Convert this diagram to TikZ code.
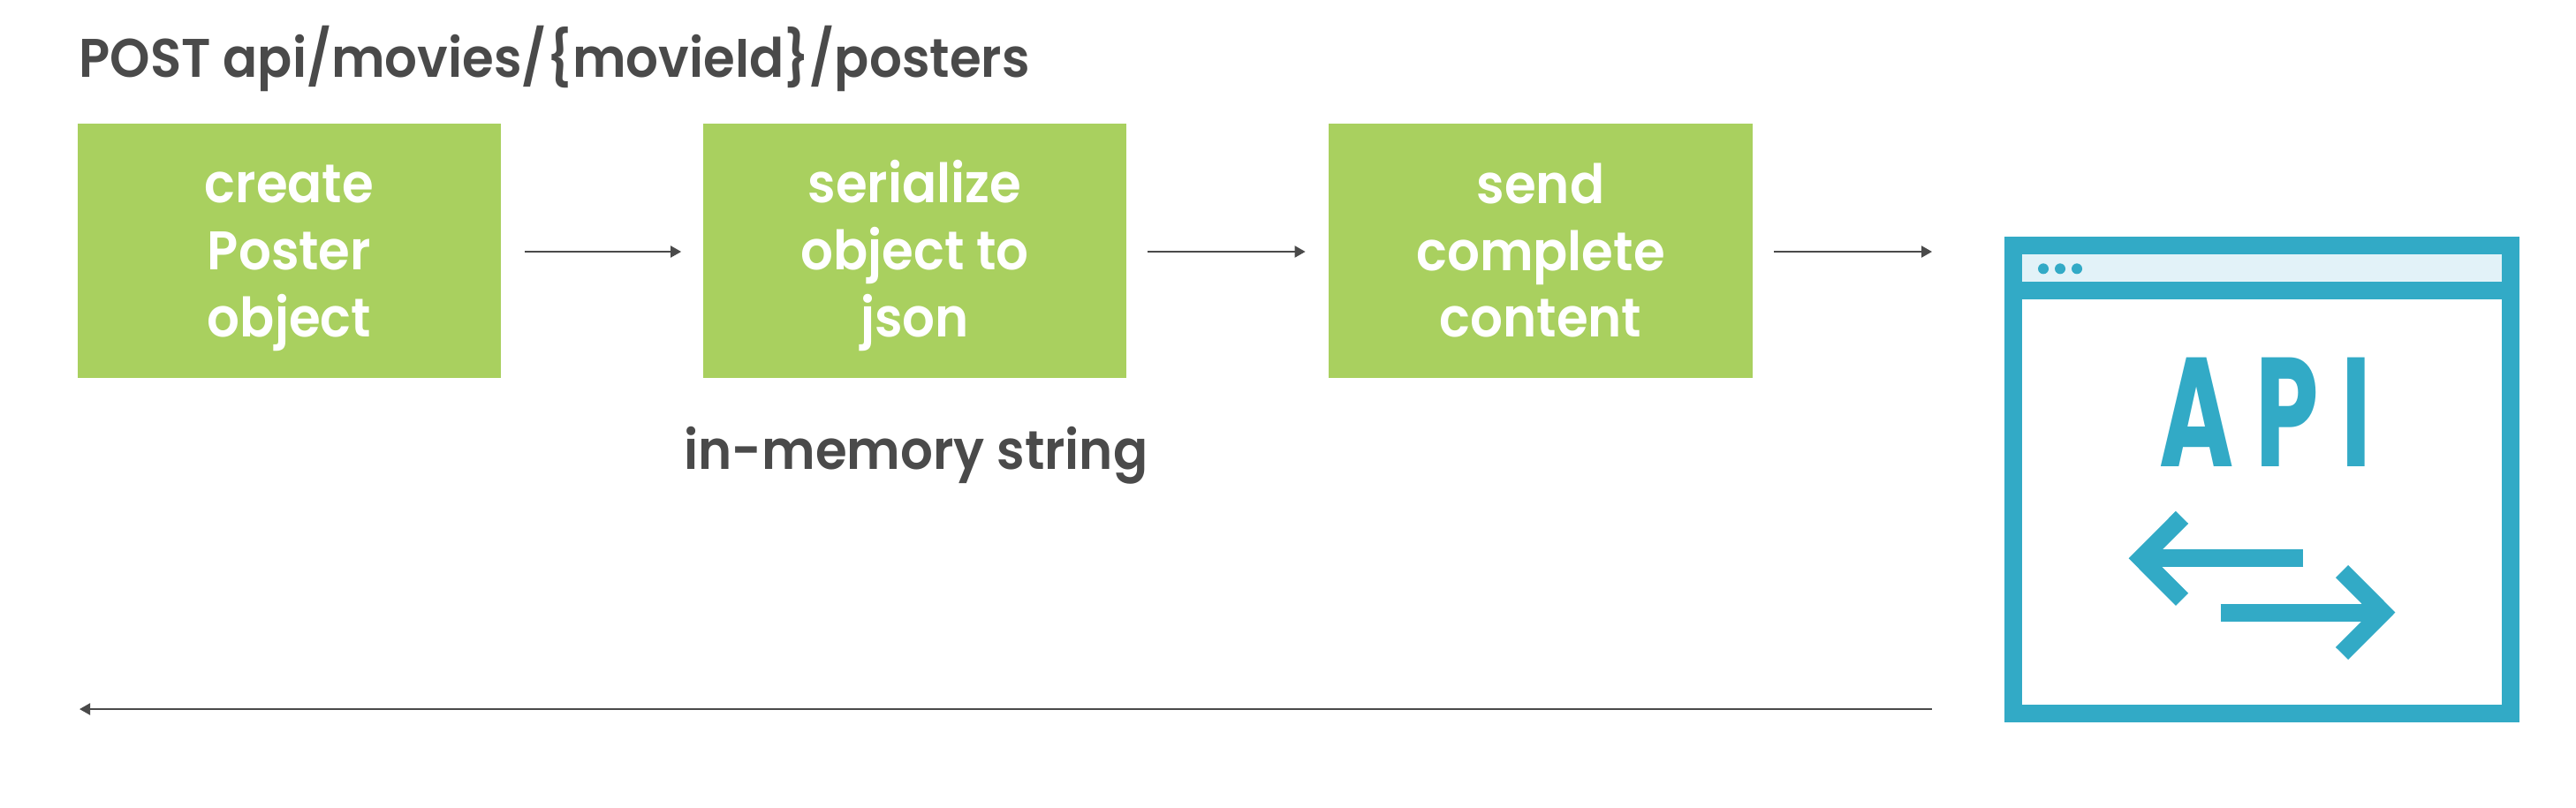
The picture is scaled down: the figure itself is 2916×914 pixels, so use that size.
\documentclass[tikz,border=0pt]{standalone}
\usepackage{xcolor}
\usepackage{fontspec}
\setmainfont{Poppins}[BoldFont={Poppins SemiBold}, FakeStretch=0.94]
\newfontfamily\apifont{Poppins}[LetterSpace=22]
\usetikzlibrary{arrows.meta, positioning}
\definecolor{stepcolor}{RGB}{169, 208, 95}
\definecolor{inkcolor}{RGB}{74, 74, 74}
\definecolor{apicolor}{RGB}{50, 170, 198}
\definecolor{barcolor}{RGB}{226, 242, 248}
\newcommand{\steplines}[3]{\rule{0pt}{0.6cm}#1\\#2\\\rule[-0.16cm]{0pt}{0.16cm}#3}

\begin{document}
\begin{tikzpicture}[
    x=0.01cm, y=-0.01cm,
    stepbox/.style={fill=stepcolor, text=white, minimum width=4.79cm, minimum height=2.88cm, inner sep=0pt, align=center, font=\fontsize{17.5}{21.6}\selectfont\bfseries},
    caption/.style={text=inkcolor, inner sep=0pt, font=\fontsize{17.5}{21.6}\selectfont\bfseries},
    flow/.style={draw=inkcolor, line width=0.02cm, -{Triangle[length=0.12cm, width=0.13cm]}},
    apistroke/.style={draw=apicolor, line width=0.2cm}
]
    \useasboundingbox (0, 0) rectangle (2916, 914);

    % Heading
    \node[caption, anchor=base west] (route) at (89, 87) {POST api/movies/\{movieId\}/posters};

    % Steps
    \node[stepbox] (create) at (327.5, 284) {\steplines{create}{Poster}{object}};
    \node[stepbox] (serialize) at (1035.5, 284) {\steplines{serialize}{object to}{json}};
    \node[stepbox] (send) at (1744, 284) {\steplines{send}{complete}{content}};
    \node[caption, anchor=base] (memory) at (1037, 531) {in-memory string};

    % Api window
    \fill[barcolor] (2280, 288) rectangle (2841, 319);
    \node[apistroke, minimum width=5.618cm, minimum height=5.305cm, inner sep=0pt] (apiwin) at (2560.5, 543) {};
    \draw[apistroke] (2270, 329) -- (2851, 329);
    \foreach \dotx in {2313, 2332, 2351}
        \fill[apicolor] (\dotx, 304.3) circle (0.06cm);
    \node[text=apicolor, inner sep=0pt, anchor=base, xscale=0.65, transform shape, font=\fontsize{50}{50}\selectfont\apifont\bfseries] (apilabel) at (2564, 528) {API};

    % Icon arrows
    \draw[apistroke] (2607.3, 632.3) -- (2423.7, 632.3);
    \draw[apistroke] (2470, 585.8) -- (2423.7, 632.3) -- (2470, 678.8);
    \draw[apistroke] (2513.7, 693.5) -- (2697.3, 693.5);
    \draw[apistroke] (2651, 647) -- (2697.3, 693.5) -- (2651, 740);

    % Flow arrows
    \coordinate (sendend) at (2187, 285);
    \coordinate (backstart) at (2187, 803);
    \coordinate (backend) at (90, 803);
    \draw[flow, shorten <=0.26cm, shorten >=0.24cm] (create.east |- sendend) -- (serialize.west |- sendend);
    \draw[flow, shorten <=0.23cm, shorten >=0.26cm] (serialize.east |- sendend) -- (send.west |- sendend);
    \draw[flow, shorten <=0.24cm] (send.east |- sendend) -- (sendend);
    \draw[flow] (backstart) -- (backend);
\end{tikzpicture}
\end{document}
